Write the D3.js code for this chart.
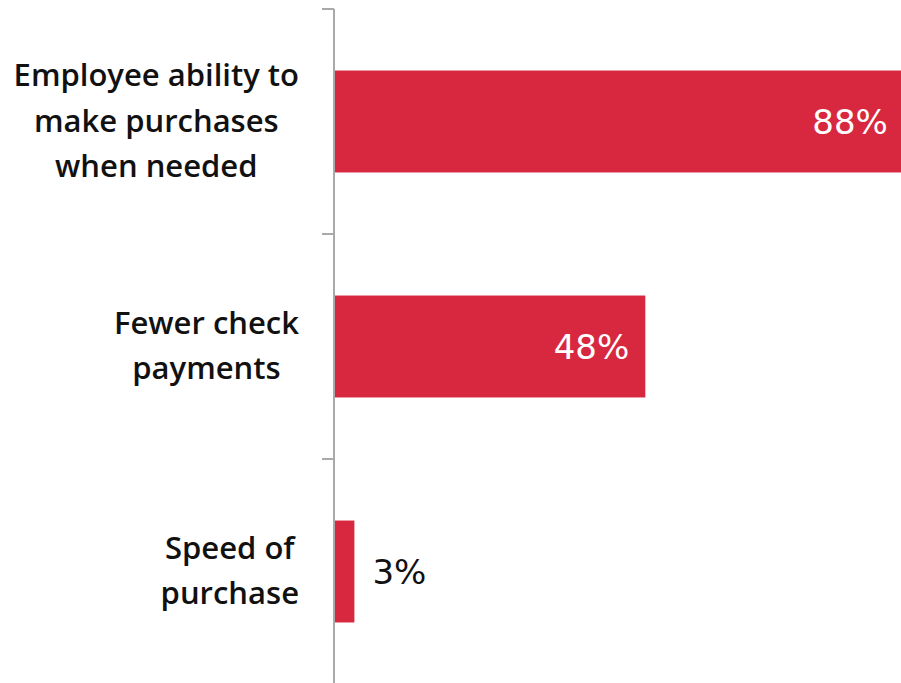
<!DOCTYPE html>
<html>
<head>
<meta charset="utf-8">
<script src="https://cdn.jsdelivr.net/npm/d3@7"></script>
<style>
  html, body { margin: 0; padding: 0; background: #fff; }
  svg { display: block; }
</style>
</head>
<body>
<svg id="chart" width="901" height="683"></svg>
<script>
// Survey results: benefits reported, share of respondents
const categories = [
  ["Employee ability to", "make purchases", "when needed"],
  ["Fewer check", "payments"],
  ["Speed of", "purchase"]
];
const values = [88, 48, 3];
const valueLabels = ["88%", "48%", "3%"];

const svg = d3.select("#chart");
const axisX = 334;

const keys = categories.map((c, i) => i);

const y = d3.scaleBand()
  .domain(keys)
  .range([9, 684])
  .paddingInner(0.547)
  .paddingOuter(0.2735);

const x = d3.scaleLinear()
  .domain([0, 100])
  .range([335, 335 + 646.5]);

const barColor = "#d7283f";

// Bars
svg.append("g")
  .selectAll("rect")
  .data(values)
  .join("rect")
  .attr("x", x(0))
  .attr("y", (d, i) => y(i))
  .attr("width", d => x(d) - x(0))
  .attr("height", y.bandwidth())
  .attr("fill", barColor);

// Vertical axis line with ticks at band boundaries
const axisG = svg.append("g").attr("stroke", "#a9a9a9").attr("stroke-width", 2);
axisG.append("line")
  .attr("x1", axisX).attr("x2", axisX)
  .attr("y1", y.range()[0]).attr("y2", y.range()[1]);
const bounds = d3.range(keys.length + 1).map(i => y.range()[0] + i * y.step());
axisG.selectAll("line.tick")
  .data(bounds)
  .join("line")
  .attr("class", "tick")
  .attr("x1", axisX - 12).attr("x2", axisX)
  .attr("y1", d => d).attr("y2", d => d);

// Value labels: inside the bar in white when the bar is wide enough, otherwise outside in black
const valueFont = "'DejaVu Sans', sans-serif";
svg.append("g")
  .selectAll("text")
  .data(values)
  .join("text")
  .attr("font-family", valueFont)
  .attr("font-size", 34)
  .attr("dominant-baseline", "central")
  .attr("y", (d, i) => y(i) + y.bandwidth() / 2)
  .each(function (d, i) {
    const t = d3.select(this);
    const inside = x(d) - x(0) > 100;
    t.attr("x", inside ? x(d) - 16 : x(d) + 18)
     .attr("text-anchor", inside ? "end" : "start")
     .attr("fill", inside ? "#ffffff" : "#111111")
     .text(valueLabels[i]);
  });

// Category labels: centred multi-line blocks whose right edge sits next to the axis
const catFont = "'Open Sans', sans-serif";
const lineH = 45.5;
const labelRight = 299;
const catG = svg.append("g");
categories.forEach((lines, i) => {
  const cy = y(i) + y.bandwidth() / 2;
  const t = catG.append("text")
    .attr("font-family", catFont)
    .attr("font-size", 31)
    .attr("font-weight", 600)
    .attr("fill", "#111111")
    .attr("text-anchor", "middle");
  const spans = lines.map((ln, j) =>
    t.append("tspan")
      .attr("y", cy + (j - (lines.length - 1) / 2) * lineH + 10)
      .text(ln)
  );
  const maxW = d3.max(spans, s => s.node().getComputedTextLength());
  spans.forEach(s => s.attr("x", labelRight - maxW / 2));
});
</script>
</body>
</html>
